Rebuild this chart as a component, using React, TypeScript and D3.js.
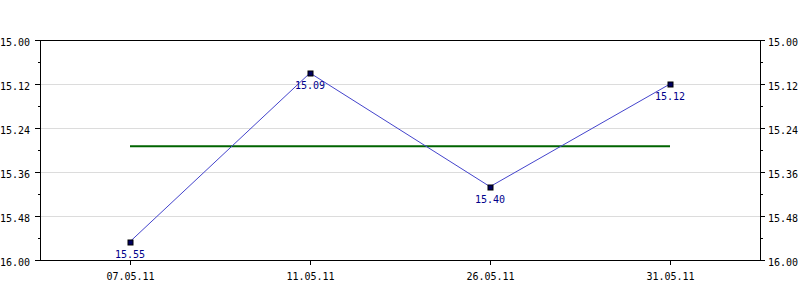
import React from "react";
import * as d3 from "d3";

const categories = ["07.05.11", "11.05.11", "26.05.11", "31.05.11"];
const values = [15.55, 15.09, 15.4, 15.12];
const valueLabels = ["15.55", "15.09", "15.40", "15.12"];
const averageValue = 15.29;
const yTickValues = [15.0, 15.12, 15.24, 15.36, 15.48, 15.6];
const yTickLabels = ["15.00", "15.12", "15.24", "15.36", "15.48", "16.00"];
const yDomain = [15.0, 15.6];

const W = 800;
const H = 300;
const M = { left: 40, right: 40, top: 40, bottom: 40 };
const FONT = "'DejaVu Sans Mono', monospace";

export default function App() {
  const x = d3
    .scaleBand<string>()
    .domain(categories)
    .range([M.left, W - M.right]);
  const y = d3.scaleLinear().domain(yDomain).range([M.top, H - M.bottom]);
  const cx = (c: string) => (x(c) as number) + x.bandwidth() / 2;

  const line = d3
    .line<number>()
    .x((_, i) => cx(categories[i]))
    .y((v) => y(v));

  const minorTicks = yTickValues.slice(0, -1).map((v, i) => (v + yTickValues[i + 1]) / 2);
  const x0 = M.left;
  const x1 = W - M.right;
  const y0 = M.top;
  const y1 = H - M.bottom;

  return (
    <svg
      width={W}
      height={H}
      style={{ position: "absolute", left: 0, top: 0, background: "#fff" }}
      fontFamily={FONT}
      fontSize={10}
    >
      {/* grid */}
      {yTickValues.slice(1, -1).map((v) => (
        <line
          key={"g" + v}
          x1={x0}
          x2={x1}
          y1={Math.round(y(v)) + 0.5}
          y2={Math.round(y(v)) + 0.5}
          stroke="#dcdcdc"
        />
      ))}
      {/* frame */}
      <rect
        x={x0 + 0.5}
        y={y0 + 0.5}
        width={x1 - x0}
        height={y1 - y0}
        fill="none"
        stroke="#000"
      />
      {/* y ticks */}
      {yTickValues.map((v, i) => {
        const yy = Math.round(y(v)) + 0.5;
        return (
          <g key={"t" + v}>
            <line x1={x0 - 5} x2={x0} y1={yy} y2={yy} stroke="#000" />
            <line x1={x1} x2={x1 + 5} y1={yy} y2={yy} stroke="#000" />
            <text x={x0 - 10} y={yy + 5} textAnchor="end" fill="#000">
              {yTickLabels[i]}
            </text>
            <text x={x1 + 8} y={yy + 5} textAnchor="start" fill="#000">
              {yTickLabels[i]}
            </text>
          </g>
        );
      })}
      {minorTicks.map((v) => {
        const yy = Math.round(y(v)) + 0.5;
        return (
          <g key={"m" + v}>
            <line x1={x0 - 2} x2={x0 + 1} y1={yy} y2={yy} stroke="#000" />
            <line x1={x1} x2={x1 + 3} y1={yy} y2={yy} stroke="#000" />
          </g>
        );
      })}
      {/* x ticks */}
      {categories.map((c) => {
        const xx = Math.round(cx(c)) + 0.5;
        return (
          <g key={"x" + c}>
            <line x1={xx} x2={xx} y1={y1} y2={y1 + 5} stroke="#000" />
            <text x={xx} y={y1 + 20} textAnchor="middle" fill="#000">
              {c}
            </text>
          </g>
        );
      })}
      {/* average line */}
      <line
        x1={cx(categories[0])}
        x2={cx(categories[categories.length - 1])}
        y1={y(averageValue)}
        y2={y(averageValue)}
        stroke="#006400"
        strokeWidth={2}
      />
      {/* series */}
      <path d={line(values) || ""} fill="none" stroke="#4444cc" strokeWidth={1} />
      {values.map((v, i) => {
        const px = cx(categories[i]);
        const py = y(v);
        return (
          <g key={"p" + i}>
            <rect
              x={Math.round(px) - 2}
              y={Math.round(py) - 2}
              width={5}
              height={5}
              fill="#000060"
              stroke="#000"
              strokeWidth={1}
            />
            <text x={px} y={py + 16} textAnchor="middle" fill="#00008b">
              {valueLabels[i]}
            </text>
          </g>
        );
      })}
    </svg>
  );
}
